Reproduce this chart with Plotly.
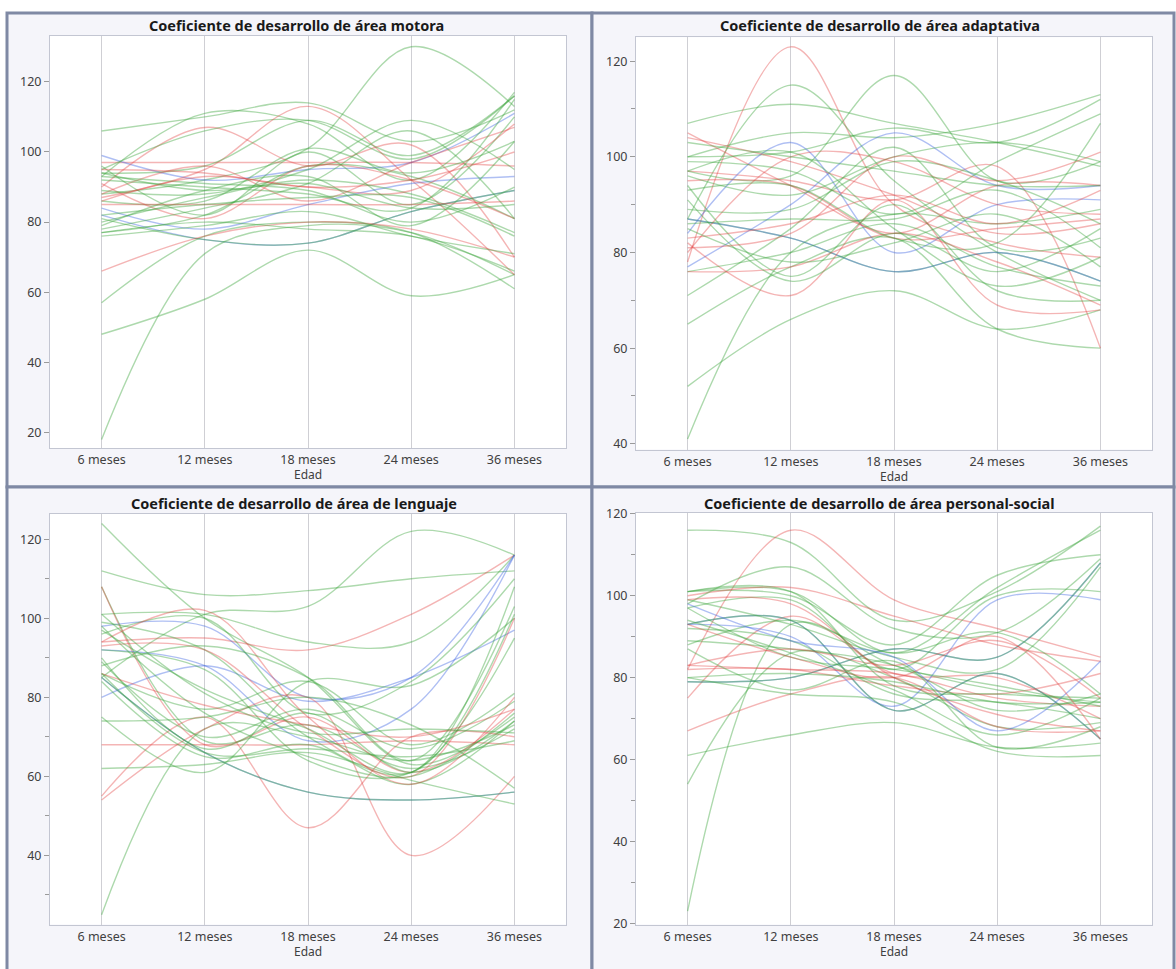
import plotly.graph_objects as go

edades = ["6 meses", "12 meses", "18 meses", "24 meses", "36 meses"]

titulos = [
    "Coeficiente de desarrollo de área motora",
    "Coeficiente de desarrollo de área adaptativa",
    "Coeficiente de desarrollo de área de lenguaje",
    "Coeficiente de desarrollo de área personal-social",
]

# ---- área motora ----
motora_grupo = ["g", "g", "r", "b", "b", "g", "g", "g", "g", "r", "r", "g", "g", "r", "g", "g", "r",
                "g", "b", "g", "r", "g", "g", "r", "g", "g", "r", "g", "g", "g", "r", "g", "g", "g"]
motora = [
    [106, 110, 114, 103, 112], [88, 92, 101, 130, 113], [97, 97, 97, 97, 96], [99, 92, 95, 97, 111],
    [82, 75, 74, 83, 89], [81, 75, 74, 83, 89], [18, 71, 79, 77, 65], [48, 58, 72, 59, 65],
    [57, 76, 80, 77, 61], [66, 76, 80, 78, 70], [90, 107, 96, 102, 70], [95, 106, 109, 98, 116],
    [93, 111, 108, 92, 117], [87, 95, 113, 92, 65], [94, 96, 109, 99, 116], [86, 86, 101, 94, 103],
    [88, 96, 86, 97, 107], [96, 82, 100, 85, 110], [84, 78, 85, 91, 93], [77, 82, 96, 93, 81],
    [91, 81, 96, 92, 81], [78, 84, 91, 106, 81], [79, 89, 93, 79, 103], [95, 94, 90, 92, 100],
    [92, 90, 88, 84, 115], [80, 87, 92, 88, 77], [85, 85, 85, 85, 86], [76, 79, 83, 76, 71],
    [89, 88, 95, 109, 95], [93, 91, 89, 80, 90], [86, 93, 90, 89, 108], [82, 85, 87, 87, 76],
    [77, 80, 78, 76, 66], [94, 89, 91, 84, 85],
]

# ---- área adaptativa ----
adaptativa_grupo = ["g", "r", "g", "g", "g", "g", "r", "g", "g", "g", "b", "b", "g", "b", "r", "r", "r",
                    "r", "g", "g", "g", "r", "g", "g", "g", "r", "g", "g", "r", "g", "g", "g", "r", "g"]
adaptativa = [
    [107, 111, 107, 103, 98], [78, 123, 90, 82, 79], [87, 115, 95, 80, 70], [41, 80, 88, 86, 89],
    [52, 66, 72, 64, 68], [65, 77, 83, 64, 60], [97, 95, 91, 98, 60], [100, 105, 104, 107, 113],
    [100, 101, 106, 103, 112], [97, 96, 117, 95, 99], [84, 103, 80, 90, 91], [77, 90, 105, 94, 94],
    [87, 83, 76, 80, 74], [87, 83, 76, 80, 74], [105, 94, 84, 94, 94], [104, 99, 92, 84, 86],
    [80, 100, 99, 90, 88], [95, 94, 83, 85, 87], [99, 97, 88, 99, 109], [93, 94, 83, 82, 107],
    [71, 85, 102, 81, 83], [82, 71, 91, 69, 68], [76, 80, 86, 77, 73], [94, 75, 90, 72, 70],
    [89, 89, 99, 95, 86], [76, 77, 84, 78, 69], [86, 87, 87, 93, 81], [97, 101, 85, 73, 79],
    [83, 86, 92, 86, 93], [91, 74, 84, 76, 85], [96, 92, 100, 103, 99], [85, 78, 82, 88, 77],
    [81, 84, 100, 95, 101], [103, 100, 97, 94, 94],
]

# ---- área de lenguaje ----
lenguaje_grupo = ["g", "g", "g", "r", "g", "g", "r", "b", "b", "b", "g", "r", "r", "r", "b", "g", "g",
                  "g", "g", "g", "g", "r", "g", "g", "g", "g", "r", "g", "g", "r", "g", "g", "g", "g"]
lenguaje = [
    [124, 100, 85, 63, 75], [112, 106, 107, 110, 112], [108, 69, 73, 62, 72], [108, 68, 75, 61, 77],
    [85, 101, 103, 122, 116], [101, 101, 94, 94, 116], [94, 95, 92, 101, 116], [98, 98, 80, 85, 116],
    [80, 88, 79, 85, 97], [92, 88, 69, 77, 116], [25, 72, 70, 64, 73], [54, 72, 80, 40, 60],
    [68, 68, 68, 69, 68], [55, 75, 47, 70, 70], [85, 66, 56, 54, 56], [85, 66, 56, 54, 56],
    [62, 63, 66, 59, 53], [74, 75, 80, 73, 57], [75, 61, 84, 83, 100], [96, 100, 76, 84, 110],
    [99, 92, 70, 61, 108], [93, 92, 72, 60, 100], [97, 82, 72, 61, 101], [90, 67, 76, 61, 74],
    [89, 70, 77, 67, 79], [86, 77, 84, 68, 81], [86, 78, 73, 70, 77], [101, 81, 71, 72, 71],
    [84, 65, 68, 58, 74], [94, 102, 75, 58, 80], [92, 87, 64, 61, 95], [88, 93, 85, 64, 103],
    [98, 76, 65, 60, 76], [86, 66, 67, 65, 69],
]

# ---- área personal-social ----
personal_grupo = ["g", "r", "g", "g", "g", "r", "r", "b", "b", "g", "b", "g", "g", "g", "r", "g", "g",
                  "g", "r", "r", "g", "g", "g", "g", "r", "g", "r", "g", "g", "b", "g", "r", "g"]
personal = [
    [116, 113, 94, 101, 117], [82, 116, 99, 92, 85], [23, 93, 83, 77, 74], [54, 86, 80, 68, 69],
    [61, 66, 69, 63, 64], [67, 76, 80, 68, 67], [75, 95, 81, 80, 70], [93, 90, 73, 99, 99],
    [93, 94, 72, 81, 65], [93, 94, 72, 81, 65], [79, 80, 87, 85, 108], [79, 80, 87, 85, 108],
    [101, 101, 86, 102, 116], [101, 100, 88, 105, 110], [100, 102, 95, 88, 84], [98, 107, 92, 91, 109],
    [97, 99, 82, 100, 101], [99, 93, 85, 82, 107], [83, 82, 81, 75, 73], [82, 82, 78, 76, 81],
    [89, 87, 83, 72, 76], [94, 86, 77, 66, 75], [87, 77, 84, 63, 68], [80, 76, 74, 62, 61],
    [99, 98, 80, 71, 67], [92, 89, 76, 74, 70], [83, 87, 83, 89, 75], [97, 85, 82, 78, 73],
    [88, 94, 86, 91, 76], [98, 89, 85, 67, 84], [80, 81, 79, 74, 74], [93, 85, 80, 90, 65],
    [101, 101, 78, 76, 75],
]

paneles = [(motora, motora_grupo), (adaptativa, adaptativa_grupo),
           (lenguaje, lenguaje_grupo), (personal, personal_grupo)]

colores = {"g": "rgba(60,165,60,0.42)", "r": "rgba(225,60,60,0.38)", "b": "rgba(55,95,225,0.40)"}

W, H = 1176, 969
# pixel boxes of plot areas: (x0, x1, y0_top, y1_bottom)
cajas = [(50, 566, 29, 447.7), (636, 1152, 30.7, 449), (50, 566, 514, 931), (636, 1152, 513, 931)]
rangos_y = [[15.5, 133.2], [38.8, 125.0], [22.5, 126.5], [19.7, 120.3]]
menor = [False, True, True, True]

fig = go.Figure()

for i, (datos, grupos) in enumerate(paneles):
    ax = "" if i == 0 else str(i + 1)
    for serie, g in zip(datos, grupos):
        fig.add_trace(go.Scatter(
            x=edades, y=serie, mode="lines",
            line=dict(color=colores[g], width=1.4, shape="spline", smoothing=1.0),
            xaxis="x" + ax, yaxis="y" + ax, showlegend=False, hoverinfo="skip"))

tickfont = dict(family="Noto Sans, Open Sans, sans-serif", size=12.5, color="#404040")
layout = dict(width=W, height=H, margin=dict(l=0, r=0, t=0, b=0),
              paper_bgcolor="white", plot_bgcolor="rgba(0,0,0,0)", showlegend=False)

shapes = []
# panel backgrounds with borders
panel_rects = [(7, 592, 6, 487), (592, 1174, 6, 487), (7, 592, 487, 980), (592, 1174, 487, 980)]
for (x0, x1, y0, y1) in panel_rects:
    shapes.append(dict(type="rect", xref="paper", yref="paper", layer="below",
                       x0=x0 / W, x1=x1 / W, y0=1 - y1 / H, y1=1 - y0 / H,
                       fillcolor="#f5f5fa", line=dict(color="#7f89a4", width=3)))
annotations = []
for i, (x0, x1, yt, yb) in enumerate(cajas):
    ax = "" if i == 0 else str(i + 1)
    shapes.append(dict(type="rect", xref="paper", yref="paper", layer="below",
                       x0=x0 / W, x1=x1 / W, y0=1 - yb / H, y1=1 - yt / H,
                       fillcolor="white", line=dict(width=0)))
    layout["xaxis" + ax] = dict(
        domain=[x0 / W, x1 / W], anchor="y" + ax, type="category",
        categoryorder="array", categoryarray=edades, range=[-0.5, 4.5],
        showgrid=True, gridcolor="#cfcfd4", gridwidth=1,
        showline=True, linecolor="#c3c6d2", linewidth=1, mirror=True,
        ticks="", tickfont=tickfont, zeroline=False, fixedrange=True)
    ydict = dict(
        domain=[1 - yb / H, 1 - yt / H], anchor="x" + ax, range=rangos_y[i],
        dtick=20, tick0=0, showgrid=False, zeroline=False,
        showline=True, linecolor="#c3c6d2", linewidth=1, mirror=True,
        ticks="outside", ticklen=5, tickcolor="#9a9a9a", tickfont=tickfont, fixedrange=True)
    if menor[i]:
        ydict["minor"] = dict(ticks="outside", ticklen=4, dtick=10, tick0=0, tickcolor="#9a9a9a")
    layout["yaxis" + ax] = ydict
    cx = (x0 + x1) / 2
    annotations.append(dict(text="Edad", xref="paper", yref="paper", x=cx / W, y=1 - (yb + 27) / H,
                            showarrow=False, xanchor="center", yanchor="middle",
                            font=dict(family="Noto Sans, Open Sans, sans-serif", size=12, color="#404040")))

titulo_pos = [(296, 18), (880, 18), (294, 503), (879, 503)]
for t, (tx, ty) in zip(titulos, titulo_pos):
    annotations.append(dict(text="<b>" + t + "</b>", xref="paper", yref="paper", x=tx / W, y=1 - ty / H,
                            showarrow=False, xanchor="center", yanchor="middle",
                            font=dict(family="Noto Sans, Open Sans, sans-serif", size=14.5, color="#1a1a1a")))

layout["shapes"] = shapes
layout["annotations"] = annotations
fig.update_layout(**layout)
fig.write_html("out.html", config={"displayModeBar": False},
               post_script="document.body.style.margin='0';document.body.style.overflow='hidden';")
